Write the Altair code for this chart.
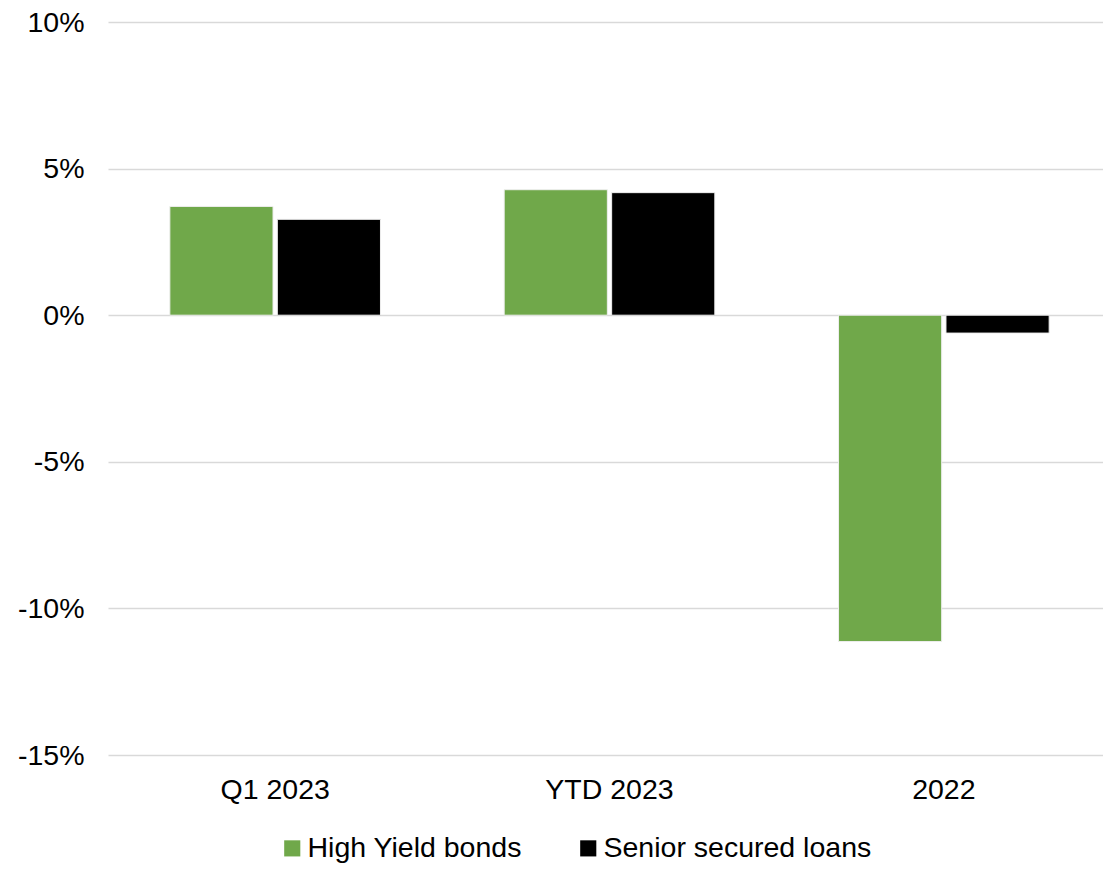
import altair as alt
import pandas as pd

categories = ["Q1 2023", "YTD 2023", "2022"]
series = ["High Yield bonds", "Senior secured loans"]
high_yield = [3.71, 4.28, -11.13]
senior_loans = [3.27, 4.18, -0.61]
y_ticks = [-15, -10, -5, 0, 5, 10]
colors = ["#70A84A", "#000000"]

rows = []
for c, v in zip(categories, high_yield):
    rows.append({"category": c, "series": series[0], "value": v})
for c, v in zip(categories, senior_loans):
    rows.append({"category": c, "series": series[1], "value": v})
df = pd.DataFrame(rows)

font = "Liberation Sans"
fs = 28.5

chart = alt.Chart(df).mark_bar(stroke="#eeeeee", strokeWidth=1).encode(
    x=alt.X("category:N", sort=categories, title=None,
            scale=alt.Scale(paddingInner=0.37, paddingOuter=0.185, range=[0, 1003]),
            axis=alt.Axis(labelAngle=0, labelFontSize=fs, labelFont=font,
                          labelColor="#000000", labelPadding=20, ticks=False,
                          domain=False, grid=False)),
    xOffset=alt.XOffset("series:N", sort=series,
                        scale=alt.Scale(paddingInner=0.04)),
    y=alt.Y("value:Q", title=None,
            scale=alt.Scale(domain=[-15, 10], nice=False),
            axis=alt.Axis(values=y_ticks, labelExpr="datum.value + '%'",
                          labelFontSize=fs, labelFont=font, labelColor="#000000",
                          labelPadding=24, ticks=False, domain=False,
                          gridColor="#d9d9d9", gridWidth=1.5)),
    color=alt.Color("series:N", sort=series,
                    scale=alt.Scale(domain=series, range=colors),
                    legend=alt.Legend(title=None, orient="none", direction="horizontal",
                                      legendX=170, legendY=812,
                                      symbolType="square", symbolSize=260,
                                      symbolStrokeWidth=0, labelFontSize=fs,
                                      labelFont=font, labelColor="#000000",
                                      labelOffset=1, columnPadding=52,
                                      labelLimit=500, symbolOpacity=1)),
).properties(
    width=995, height=733,
    padding={"left": 100, "top": 14, "right": 0, "bottom": 110},
    autosize=alt.AutoSizeParams(type="none"),
).configure_view(stroke=None)

chart.save("out.html", embed_options={"renderer": "svg", "actions": False})
